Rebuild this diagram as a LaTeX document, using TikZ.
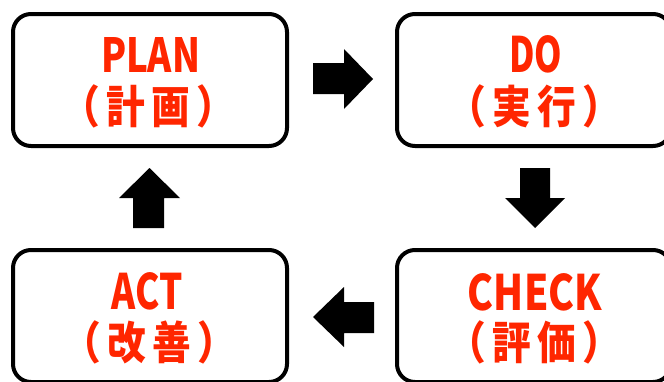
\documentclass[tikz,border=0pt]{standalone}
\usepackage{fontspec}
\usepackage{graphicx}
\newfontfamily\jpfont{Noto Sans CJK JP}
\definecolor{pdcared}{RGB}{255,38,0}
\newcommand{\jcell}[1]{\makebox[45pt]{\scalebox{0.86}[1]{#1}}}
\newcommand{\jline}[2]{\jcell{（}\jcell{#1}\jcell{#2}\jcell{）}}
\tikzset{
  pdcabox/.style={draw=black, line width=4pt, rounded corners=18pt},
  latinlbl/.style={anchor=base, inner sep=0pt, text=pdcared, font=\jpfont\bfseries},
  jplbl/.style={anchor=base, inner sep=0pt, text=pdcared, font=\jpfont\bfseries\fontsize{45pt}{45pt}\selectfont},
  blockarrow/.style={fill=black, draw=none}
}
\begin{document}
\begin{tikzpicture}[x=1pt,y=-1pt]
\useasboundingbox (0,0) rectangle (664,381);
\fill[white] (0,0) rectangle (664,381);
\clip (0,0) rectangle (664,381);
% boxes
\draw[pdcabox] (13,14) rectangle (287,146);
\draw[pdcabox] (397,14) rectangle (671,146);
\draw[pdcabox] (13,250) rectangle (287,382);
\draw[pdcabox] (397,250) rectangle (671,382);
% texts
\node[latinlbl] (planA) at (150.5,72) {\resizebox{99pt}{35pt}{PLAN}};
\node[jplbl] (planB) at (148,123) {\jline{計}{画}};
\node[latinlbl] (doA) at (535.5,72) {\resizebox{53pt}{37pt}{DO}};
\node[jplbl] (doB) at (534,123) {\jline{実}{行}};
\node[latinlbl] (actA) at (147.5,309) {\resizebox{71pt}{37pt}{ACT}};
\node[jplbl] (actB) at (149,359) {\jline{改}{善}};
\node[latinlbl] (checkA) at (535,310) {\resizebox{134pt}{37pt}{CHECK}};
\node[jplbl] (checkB) at (534,359) {\jline{評}{価}};
% block arrows
\fill[blockarrow] (313,63) -- (344,63) -- (344,49) -- (373,79) -- (344,109) -- (344,94) -- (313,94) -- cycle;
\fill[blockarrow] (520,168) -- (550,168) -- (550,198) -- (565,198) -- (535,228) -- (505,198) -- (520,198) -- cycle;
\fill[blockarrow] (133,228) -- (164,228) -- (164,198) -- (180,198) -- (149.5,168) -- (119,198) -- (133,198) -- cycle;
\fill[blockarrow] (374,302) -- (374,333) -- (344,333) -- (344,347) -- (313,317) -- (344,287) -- (344,302) -- cycle;
\end{tikzpicture}
\end{document}
